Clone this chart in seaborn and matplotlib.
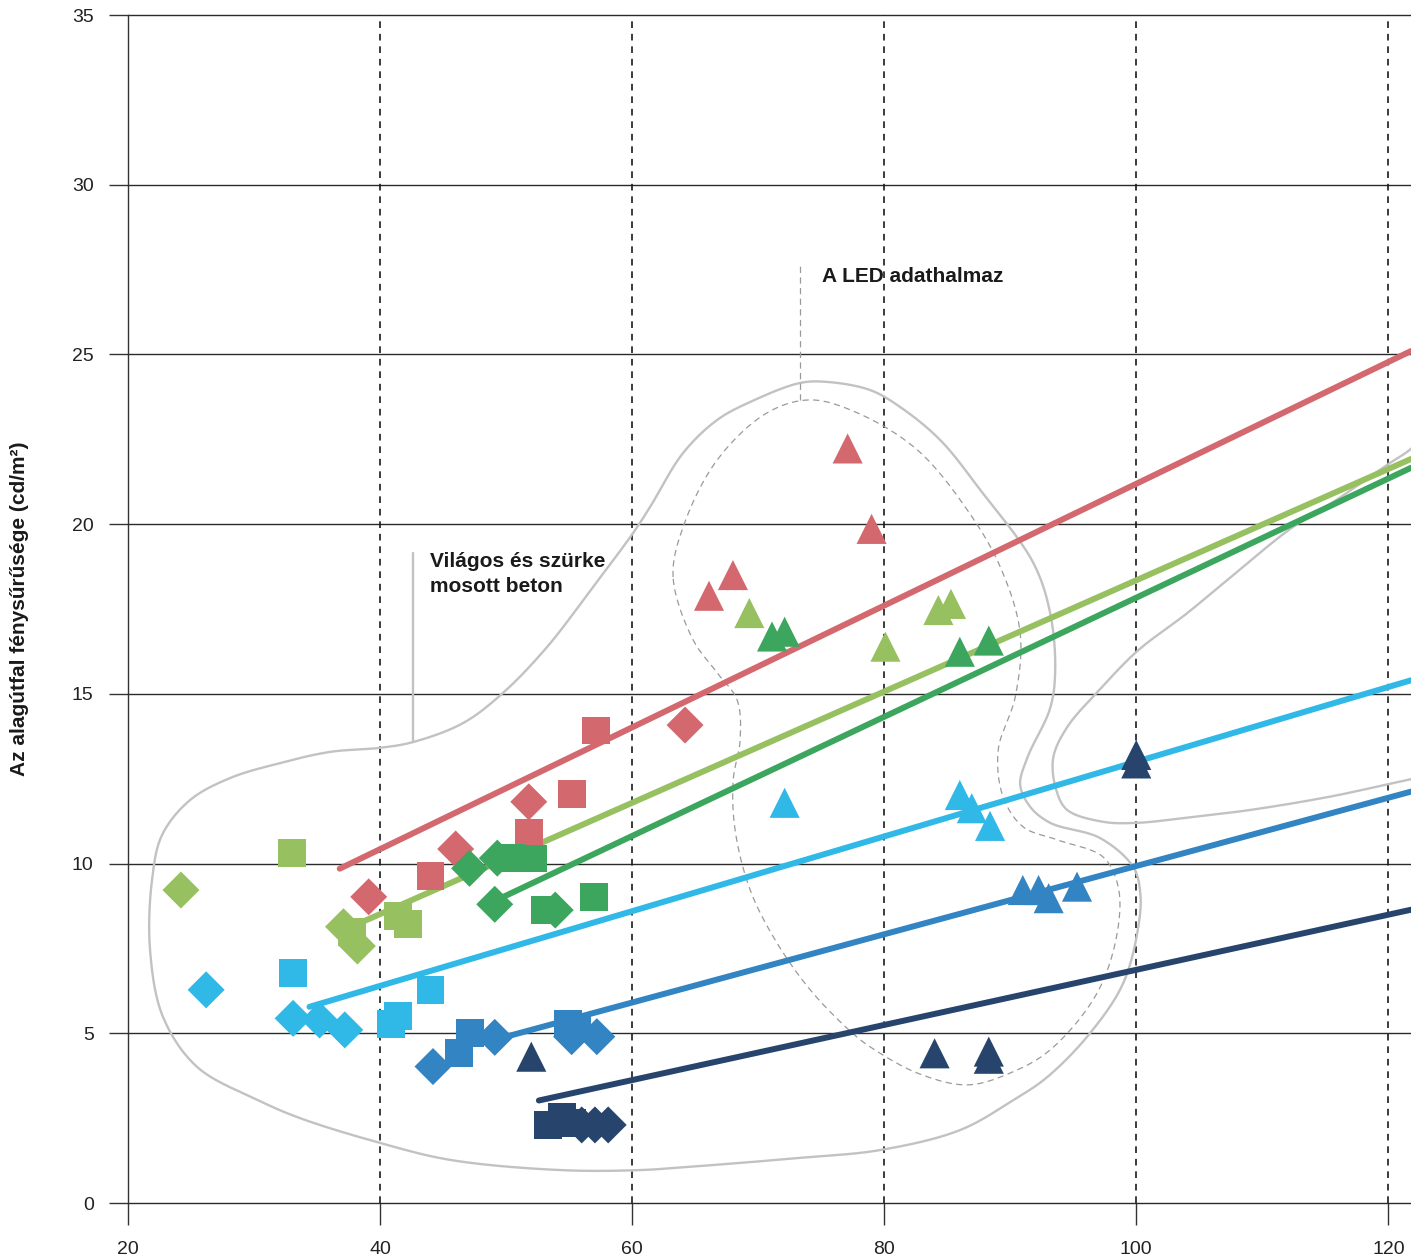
"""Tunnel-wall luminance vs. reflectance scatter with per-surface trend lines."""
import matplotlib
matplotlib.use("Agg")
import matplotlib.pyplot as plt
import numpy as np
import pandas as pd
import seaborn as sns

# ---- data -----------------------------------------------------------------
groups = ["red", "lgreen", "dgreen", "lblue", "mblue", "navy"]
palette = {
    "red": "#D4686F",
    "lgreen": "#97C061",
    "dgreen": "#3CA55E",
    "lblue": "#30B8E7",
    "mblue": "#3384C2",
    "navy": "#27456C",
}

red_sq_x = [44.0, 51.8, 55.2, 57.1]
red_sq_y = [9.63, 10.91, 12.05, 13.92]
red_di_x = [39.1, 46.0, 51.8, 64.2]
red_di_y = [9.02, 10.43, 11.82, 14.08]
red_tri_x = [66.1, 68.0, 77.1, 79.0]
red_tri_y = [17.89, 18.5, 22.23, 19.86]

lgreen_sq_x = [33.0, 37.75, 41.4, 42.2]
lgreen_sq_y = [10.31, 7.98, 8.46, 8.22]
lgreen_di_x = [24.2, 37.1, 38.2]
lgreen_di_y = [9.22, 8.14, 7.57]
lgreen_tri_x = [69.3, 80.1, 84.3, 85.3]
lgreen_tri_y = [17.38, 16.39, 17.47, 17.65]

dgreen_sq_x = [50.4, 52.1, 53.1, 57.0]
dgreen_sq_y = [10.16, 10.15, 8.63, 9.02]
dgreen_di_x = [47.1, 49.3, 49.1, 53.9]
dgreen_di_y = [9.86, 10.16, 8.80, 8.63]
dgreen_tri_x = [71.1, 72.1, 86.0, 88.3]
dgreen_tri_y = [16.69, 16.83, 16.24, 16.57]

lblue_sq_x = [33.1, 40.9, 41.4, 44.0]
lblue_sq_y = [6.79, 5.27, 5.51, 6.28]
lblue_di_x = [26.2, 33.1, 35.2, 37.2]
lblue_di_y = [6.28, 5.44, 5.39, 5.10]
lblue_tri_x = [72.1, 86.0, 86.95, 88.4]
lblue_tri_y = [11.79, 12.02, 11.63, 11.11]

mblue_sq_x = [46.3, 47.1, 54.9, 55.6]
mblue_sq_y = [4.43, 5.0, 5.28, 5.2]
mblue_di_x = [44.2, 49.1, 55.2, 57.2]
mblue_di_y = [4.02, 4.88, 4.9, 4.9]
mblue_tri_x = [91.0, 92.25, 93.05, 95.3]
mblue_tri_y = [9.22, 9.22, 8.98, 9.32]

navy_sq_x = [53.3, 54.4, 55.2]
navy_sq_y = [2.31, 2.54, 2.35]
navy_di_x = [56.0, 57.05, 58.1]
navy_di_y = [2.30, 2.30, 2.30]
navy_tri_x = [52.0, 84.0, 88.3, 88.3, 100.0, 100.0]
navy_tri_y = [4.31, 4.41, 4.46, 4.25, 13.2, 12.95]

# trend lines: end points of each fitted line
line_x = {
    "red": [36.8, 121.8], "lgreen": [37.0, 121.8], "dgreen": [49.5, 121.8],
    "lblue": [34.4, 121.8], "mblue": [49.5, 121.8], "navy": [52.6, 121.8],
}
line_y = {
    "red": [9.85, 25.1], "lgreen": [8.02, 21.92], "dgreen": [8.97, 21.66],
    "lblue": [5.78, 15.40], "mblue": [4.85, 12.12], "navy": [3.02, 8.64],
}

x_ticks = [20, 40, 60, 80, 100, 120]
y_ticks = [0, 5, 10, 15, 20, 25, 30, 35]
y_label = "Az alagútfal fénysűrűsége (cd/m²)"

# hand-drawn outlines (annotation shapes)
concrete_outline = [
    (21.75, 7.45), (21.9, 9.5), (22.70, 10.84), (24.92, 11.87), (28.10, 12.52),
    (32.06, 12.96), (36.03, 13.29), (40.0, 13.41), (42.62, 13.58), (46.59, 14.14),
    (49.76, 15.03), (53.25, 16.38), (56.90, 18.15), (60.08, 19.74), (61.43, 20.51),
    (64.05, 22.10), (66.75, 23.07), (69.37, 23.60), (73.33, 24.16), (75.48, 24.19),
    (78.89, 23.95), (81.27, 23.45), (84.44, 22.48), (87.62, 21.01), (91.83, 18.86),
    (93.17, 17.38), (93.57, 15.70), (93.17, 14.58), (91.35, 13.11), (90.79, 12.32),
    (91.59, 11.67), (93.17, 11.20), (97.14, 10.75), (99.76, 9.90), (100.32, 9.13),
    (100.16, 8.13), (98.97, 6.48), (96.35, 5.01), (92.94, 3.71), (90.24, 3.03),
    (86.03, 2.15), (79.68, 1.56), (73.33, 1.33), (65.40, 1.09), (60.63, 0.97),
    (54.29, 0.97), (45.56, 1.27), (40.0, 1.77), (33.65, 2.50), (30.32, 3.03),
    (25.48, 4.01), (22.78, 5.48),
]
right_outline = [
    (123.5, 22.9), (121.8, 22.22), (120.0, 21.77), (115.63, 20.65), (112.22, 19.86),
    (107.70, 18.50), (104.05, 17.38), (100.08, 16.26), (97.14, 15.14), (94.52, 14.02),
    (93.41, 13.11), (93.65, 12.17), (94.52, 11.58), (97.38, 11.23), (100.08, 11.20),
    (103.73, 11.34), (109.05, 11.58), (115.63, 11.99), (121.83, 12.49), (123.5, 12.6),
]
led_outline = [
    (63.25, 18.44), (64.05, 19.92), (66.75, 21.89), (70.71, 23.28), (74.13, 23.66),
    (77.86, 23.28), (82.62, 22.19), (86.59, 20.42), (89.21, 18.74), (90.79, 16.79),
    (90.40, 14.91), (89.05, 13.35), (89.44, 11.96), (91.03, 11.08), (93.73, 10.70),
    (97.38, 10.19), (98.57, 9.31), (98.49, 7.96), (96.90, 6.19), (93.17, 4.51),
    (90.0, 3.83), (86.59, 3.48), (82.62, 3.83), (78.89, 4.60), (77.46, 5.01),
    (74.13, 6.28), (71.35, 7.75), (69.37, 9.22), (68.17, 10.99), (68.02, 12.46),
    (68.57, 13.64), (68.33, 14.82), (66.75, 15.62), (64.84, 16.59),
]

# data units -> roughly screen-isotropic units, used only for spline spacing
XS, YS = 12.6, 33.94


def smooth(points, closed, n=30, alpha=0.5):
    """Centripetal Catmull-Rom spline through the outline points."""
    P = np.asarray(points, dtype=float) * [XS, YS]
    if closed:
        P = np.vstack([P[-1], P, P[0], P[1]])
    else:
        P = np.vstack([2 * P[0] - P[1], P, 2 * P[-1] - P[-2]])
    out = []
    for i in range(1, len(P) - 2):
        p0, p1, p2, p3 = P[i - 1], P[i], P[i + 1], P[i + 2]
        t0 = 0.0
        t1 = t0 + np.linalg.norm(p1 - p0) ** alpha
        t2 = t1 + np.linalg.norm(p2 - p1) ** alpha
        t3 = t2 + np.linalg.norm(p3 - p2) ** alpha
        t = np.linspace(t1, t2, n, endpoint=False)[:, None]
        a1 = (t1 - t) / (t1 - t0) * p0 + (t - t0) / (t1 - t0) * p1
        a2 = (t2 - t) / (t2 - t1) * p1 + (t - t1) / (t2 - t1) * p2
        a3 = (t3 - t) / (t3 - t2) * p2 + (t - t2) / (t3 - t2) * p3
        b1 = (t2 - t) / (t2 - t0) * a1 + (t - t0) / (t2 - t0) * a2
        b2 = (t3 - t) / (t3 - t1) * a2 + (t - t1) / (t3 - t1) * a3
        out.append((t2 - t) / (t2 - t1) * b1 + (t - t1) / (t2 - t1) * b2)
    out.append(P[-2][None, :])
    return np.vstack(out) / [XS, YS]


# ---- tidy frames -----------------------------------------------------------
rows = []
for g in groups:
    for shape in ("sq", "di", "tri"):
        xs = globals()[f"{g}_{shape}_x"]
        ys = globals()[f"{g}_{shape}_y"]
        for x, y in zip(xs, ys):
            rows.append({"x": x, "y": y, "group": g, "shape": shape})
points = pd.DataFrame(rows)

lines = pd.DataFrame(
    [{"x": x, "y": y, "group": g}
     for g in groups for x, y in zip(line_x[g], line_y[g])]
)

# ---- figure ----------------------------------------------------------------
sns.set_style("ticks")
plt.rcParams["font.family"] = ["Liberation Sans", "DejaVu Sans"]

fig = plt.figure(figsize=(14.11, 12.6), dpi=100)
ax = fig.add_axes([128 / 1411, 57 / 1260, 1283 / 1411, 1188 / 1260])

# outlines
for pts, closed, style in (
    (concrete_outline, True, dict(color="#C2C2C2", lw=1.7, ls="-")),
    (right_outline, False, dict(color="#C2C2C2", lw=1.7, ls="-")),
    (led_outline, True, dict(color="#9A9A9A", lw=0.9, ls=(0, (5, 3.5)))),
):
    s = smooth(pts, closed)
    ax.plot(s[:, 0], s[:, 1], zorder=1, solid_capstyle="round", **style)

# leader lines
ax.plot([42.62, 42.62], [13.58, 19.15], color="#C2C2C2", lw=1.7, zorder=1)
ax.plot([73.33, 73.33], [23.66, 27.64], color="#9A9A9A", lw=0.9,
        ls=(0, (5, 3.5)), zorder=1)

# trend lines
sns.lineplot(data=lines, x="x", y="y", hue="group", units="group",
             estimator=None, sort=False, palette=palette, hue_order=groups,
             linewidth=4.3, legend=False, ax=ax, zorder=2)

# markers, one call per shape so each keeps its own size
marker_for = {"sq": "s", "di": "D", "tri": "^"}
size_for = {"sq": 405, "di": 355, "tri": 470}
for shape in ("sq", "di", "tri"):
    sub = points[points["shape"] == shape]
    sns.scatterplot(data=sub, x="x", y="y", hue="group", hue_order=groups,
                    palette=palette, marker=marker_for[shape], s=size_for[shape],
                    linewidth=0, legend=False, ax=ax, zorder=3)

# annotations
ax.text(43.97, 18.0, "Világos és szürke\nmosott beton", fontsize=15,
        fontweight="bold", color="#1a1a1a", ha="left", va="baseline",
        linespacing=1.41, zorder=4)
ax.text(75.08, 27.14, "A LED adathalmaz", fontsize=15, fontweight="bold",
        color="#1a1a1a", ha="left", va="baseline", zorder=4)

# axes styling
ax.set_xlim(20, 121.8)
ax.set_ylim(0, 35)
ax.set_xticks(x_ticks)
ax.set_yticks(y_ticks)
ax.set_xlabel("")
ax.set_ylabel(y_label, fontsize=15, fontweight="bold", color="#1a1a1a",
              va="center")
ax.yaxis.set_label_coords(-108 / 1283, 0.5)

for y in y_ticks:
    ax.axhline(y, color="#2a2a2a", lw=1.0, zorder=0.5, clip_on=False)
for x in x_ticks[1:]:
    ax.axvline(x, color="#1a1a1a", lw=1.2, ls=(0, (4, 3.5)), zorder=0.5)

sns.despine(ax=ax, top=True, right=True, bottom=True)
ax.spines["left"].set_color("#333333")
ax.spines["left"].set_linewidth(1.0)

ax.tick_params(axis="y", direction="out", length=13.7, width=1.0,
               color="#333333", pad=11, labelsize=14, labelcolor="#222222")
ax.tick_params(axis="x", direction="out", length=16, width=1.0,
               color="#333333", pad=11, labelsize=14, labelcolor="#222222")

fig.savefig("out.png", dpi=100)
